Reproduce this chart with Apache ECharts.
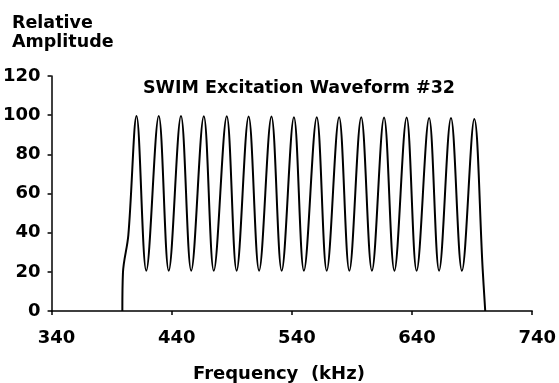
<!DOCTYPE html>
<html>
<head>
<meta charset="utf-8">
<script src="https://cdn.jsdelivr.net/npm/echarts@6/dist/echarts.min.js"></script>
<style>
html,body{margin:0;padding:0;background:#fff;}
#chart{width:559px;height:383px;}
</style>
</head>
<body>
<div id="chart"></div>
<script>
// Frequency (kHz) and relative amplitude
var freqs = [398.9, 399.4, 403.9,
  410.7, 418.8, 429.2, 437.5, 447.7, 456.2, 466.7, 475.0, 485.8, 494.0,
  504.0, 512.7, 523.0, 531.5, 541.7, 550.0, 560.7, 569.0, 579.3, 587.8,
  597.7, 606.6, 616.7, 625.3, 635.5, 643.8, 654.2, 662.5, 672.4, 681.5,
  691.8, 698.8, 700.9];
var amps = [0, 19.5, 38.8,
  99.6, 20.6, 99.6, 20.6, 99.6, 20.6, 99.5, 20.6, 99.5, 20.6,
  99.3, 20.6, 99.3, 20.6, 99.0, 20.6, 99.0, 20.6, 99.0, 20.6,
  99.0, 20.6, 98.8, 20.6, 98.8, 20.6, 98.5, 20.6, 98.5, 20.6,
  98.0, 21.0, 0];
var xTicks = [340, 440, 540, 640, 740];
var yTicks = [0, 20, 40, 60, 80, 100, 120];
var titleText = 'SWIM Excitation Waveform #32';
var yName = 'Relative\nAmplitude';
var xName = 'Frequency  (kHz)';

var data = freqs.map(function (f, i) { return [f, amps[i]]; });
var font = 'DejaVu Sans';
var chart = echarts.init(document.getElementById('chart'), null, {renderer: 'canvas'});
chart.setOption({
  animation: false,
  backgroundColor: '#fff',
  title: [
    {text: yName, left: 12, top: 14, padding: 0,
     textStyle: {fontFamily: font, fontWeight: 'bold', fontSize: 17.5, lineHeight: 19, color: '#000'}},
    {text: titleText, left: 143, top: 79, padding: 0,
     textStyle: {fontFamily: font, fontWeight: 'bold', fontSize: 17.5, color: '#000'}},
    {text: xName, left: 193, top: 365, padding: 0,
     textStyle: {fontFamily: font, fontWeight: 'bold', fontSize: 18, color: '#000'}}
  ],
  grid: {left: 50.5, right: 25, top: 76, bottom: 72, containLabel: false},
  xAxis: {
    type: 'value', min: xTicks[0], max: xTicks[xTicks.length - 1], interval: 100,
    axisLine: {lineStyle: {color: '#000', width: 1.5}},
    axisTick: {show: true, length: 4, lineStyle: {color: '#000', width: 1.5}},
    axisLabel: {fontFamily: font, fontWeight: 'bold', fontSize: 18, color: '#000', margin: 18,
      padding: [0, 0, 0, 10]},
    splitLine: {show: false}
  },
  yAxis: {
    type: 'value', min: yTicks[0], max: yTicks[yTicks.length - 1], interval: 20,
    axisLine: {show: true, lineStyle: {color: '#000', width: 1.5}},
    axisTick: {show: true, length: 4, lineStyle: {color: '#000', width: 1.5}},
    axisLabel: {fontFamily: font, fontWeight: 'bold', fontSize: 18, color: '#000', margin: 11},
    splitLine: {show: false}
  },
  series: [{
    type: 'line', data: data, smooth: 0.36,
    showSymbol: false, symbol: 'none',
    lineStyle: {color: '#000', width: 2}
  }]
});
</script>
</body>
</html>
